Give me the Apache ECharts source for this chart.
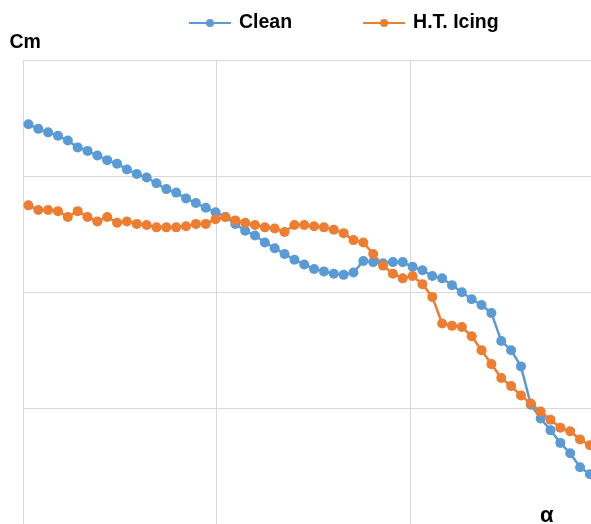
<!DOCTYPE html>
<html>
<head>
<meta charset="utf-8">
<script src="https://cdn.jsdelivr.net/npm/echarts@6/dist/echarts.min.js"></script>
<style>
html,body{margin:0;padding:0;background:#fff;}
#chart{width:591px;height:524px;}
</style>
</head>
<body>
<div id="chart"></div>
<script>
// Sample index along alpha (no tick labels are shown in the reference)
const pointIndex = [0,1,2,3,4,5,6,7,8,9,10,11,12,13,14,15,16,17,18,19,
20,21,22,23,24,25,26,27,28,29,30,31,32,33,34,35,36,37,38,39,
40,41,42,43,44,45,46,47,48,49,50,51,52,53,54,55,56,57];

const cleanValues = [0.045,0.041,0.038,0.035,0.031,0.025,0.022,0.018,0.014,0.011,
0.006,0.002,-0.001,-0.006,-0.011,-0.014,-0.019,-0.023,-0.027,-0.031,
-0.035,-0.041,-0.047,-0.051,-0.057,-0.062,-0.067,-0.072,-0.076,-0.080,
-0.082,-0.084,-0.085,-0.083,-0.073,-0.074,-0.075,-0.074,-0.074,-0.078,
-0.081,-0.086,-0.088,-0.094,-0.100,-0.106,-0.111,-0.118,-0.142,-0.150,
-0.164,-0.197,-0.209,-0.219,-0.230,-0.239,-0.251,-0.257];

const icingValues = [-0.025,-0.029,-0.029,-0.030,-0.035,-0.030,-0.035,-0.039,-0.035,-0.040,
-0.039,-0.041,-0.042,-0.044,-0.044,-0.044,-0.043,-0.041,-0.041,-0.037,
-0.035,-0.038,-0.040,-0.042,-0.044,-0.045,-0.048,-0.042,-0.042,-0.043,
-0.044,-0.046,-0.049,-0.055,-0.057,-0.067,-0.077,-0.084,-0.088,-0.086,
-0.093,-0.104,-0.127,-0.129,-0.130,-0.138,-0.150,-0.162,-0.174,-0.181,
-0.189,-0.196,-0.203,-0.210,-0.217,-0.220,-0.227,-0.232];

const seriesNames = ['Clean','H.T. Icing'];
const yMin = -0.3, yMax = 0.1, yStep = 0.1;
// visible window of the sample axis (chart is cropped on the right)
const indexMin = -0.5, indexMax = 57.11;
// alpha gridline scale (vertical gridlines, one unit per division)
const alphaMin = 0, alphaMax = 2.937, alphaStep = 1;

const chart = echarts.init(document.getElementById('chart'), null, {renderer:'canvas'});
const BLUE = '#5b9bd5', ORANGE = '#ed7d31', GRID = '#d9d9d9';
const FONT = '"Liberation Sans", Arial, sans-serif';

const pairs = vals => pointIndex.map((x, i) => [x, vals[i]]);

chart.setOption({
  animation:false,
  backgroundColor:'#ffffff',
  legend:{
    data:seriesNames,
    left:183, top:8,
    itemWidth:42, itemHeight:10, itemGap:70,
    textStyle:{fontFamily:FONT, fontWeight:'bold', fontSize:19.5, color:'#000', padding:[0,0,0,3]}
  },
  grid:{left:23.5, top:60.5, right:0, height:466, containLabel:false},
  xAxis:[{
    type:'value', min:indexMin, max:indexMax,
    axisLine:{show:false}, axisTick:{show:false}, axisLabel:{show:false},
    splitLine:{show:false}
  },{
    type:'value', min:alphaMin, max:alphaMax, interval:alphaStep, position:'bottom',
    axisLine:{show:false}, axisTick:{show:false}, axisLabel:{show:false},
    splitLine:{show:true, lineStyle:{color:GRID, width:1}}
  }],
  yAxis:{
    type:'value', min:yMin, max:yMax, interval:yStep,
    name:'Cm', nameLocation:'end', nameGap:8,
    nameTextStyle:{fontFamily:FONT, fontWeight:'bold', fontSize:19.5, color:'#000', align:'left', padding:[0,0,0,-19]},
    axisLine:{show:false}, axisTick:{show:false}, axisLabel:{show:false},
    splitLine:{show:true, lineStyle:{color:GRID, width:1}}
  },
  graphic:[{
    type:'text', left:540, top:505,
    style:{text:'α', font:'bold 22px ' + FONT, fill:'#000'}
  }],
  series:[
    {name:seriesNames[0], type:'line', xAxisIndex:0, data:pairs(cleanValues), symbol:'circle', symbolSize:10,
     showAllSymbol:true, itemStyle:{color:BLUE}, lineStyle:{color:BLUE, width:2.5}},
    {name:seriesNames[1], type:'line', xAxisIndex:0, data:pairs(icingValues), symbol:'circle', symbolSize:10,
     showAllSymbol:true, itemStyle:{color:ORANGE}, lineStyle:{color:ORANGE, width:2.5}}
  ]
});
</script>
</body>
</html>
